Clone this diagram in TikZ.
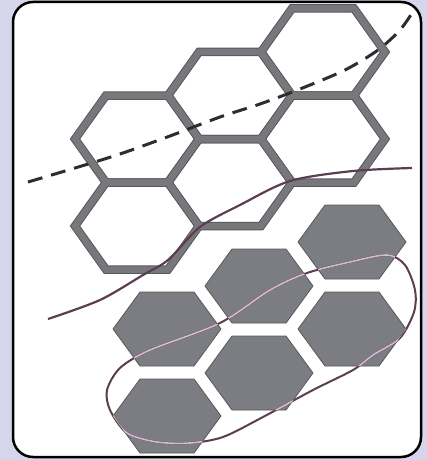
\documentclass[tikz,border=0pt]{standalone}
\definecolor{lavbg}{RGB}{214,214,234}
\definecolor{hexgray}{RGB}{120,120,124}
\definecolor{hexedge}{RGB}{88,88,92}
\definecolor{hexfill}{RGB}{124,125,131}
\definecolor{mauve}{RGB}{92,62,82}
\definecolor{palemauve}{RGB}{214,188,208}
\definecolor{dashgray}{RGB}{45,45,45}
\begin{document}
\begin{tikzpicture}[x=1pt,y=-1pt]
\fill[lavbg] (0,0) rectangle (427,460);
\draw[line width=2.5pt,fill=white,rounded corners=20pt] (13,2) rectangle (421,457);
\foreach \cx/\cy in {137/139,137/226,230/95.5,230/182.5,323/52,323/139}
  \draw[hexedge,line width=8.5pt] (\cx-62,\cy) -- (\cx-31,\cy-43.5) -- (\cx+31,\cy-43.5) -- (\cx+62,\cy) -- (\cx+31,\cy+43.5) -- (\cx-31,\cy+43.5) -- cycle;
\foreach \cx/\cy in {137/139,137/226,230/95.5,230/182.5,323/52,323/139}
  \draw[hexgray,line width=6.5pt] (\cx-62,\cy) -- (\cx-31,\cy-43.5) -- (\cx+31,\cy-43.5) -- (\cx+62,\cy) -- (\cx+31,\cy+43.5) -- (\cx-31,\cy+43.5) -- cycle;
\foreach \cx/\cy in {167/329,167/416,259/286,259/373,352/242,352/329}
  \filldraw[fill=hexfill,draw=black!65,line width=0.8pt] (\cx-54,\cy) -- (\cx-27,\cy-37) -- (\cx+27,\cy-37) -- (\cx+54,\cy) -- (\cx+27,\cy+37) -- (\cx-27,\cy+37) -- cycle;
\draw[dashgray,line width=3pt,dash pattern=on 15pt off 9pt] plot[smooth] coordinates {(28,182) (75,168) (120,154) (170,136) (220,117) (260,104) (300,89) (345,70) (378,50) (400,30) (414,10)};
\path[save path=\bendpath] plot[smooth] coordinates {(48,319) (100,300) (143,275) (168,260) (200,227) (240,205) (290,181) (353,171) (412,168)};
\path[save path=\ringpath] plot[smooth cycle] coordinates {(150,350) (220,323) (270,290) (307,273) (350,262) (387,255) (405,265) (415,290) (414,312) (400,338) (373,355) (353,370) (313,390) (263,417) (223,437) (190,443) (157,442) (127,433) (110,410) (107,390) (120,368)};
\draw[mauve,line width=2.2pt,use path=\bendpath];
\draw[mauve,line width=2pt,use path=\ringpath];
\begin{scope}
\clip \foreach \cx/\cy in {167/329,167/416,259/286,259/373,352/242,352/329} {(\cx-54,\cy) -- (\cx-27,\cy-37) -- (\cx+27,\cy-37) -- (\cx+54,\cy) -- (\cx+27,\cy+37) -- (\cx-27,\cy+37) -- cycle};
\draw[palemauve,line width=1.6pt,use path=\ringpath];
\draw[palemauve,line width=1.6pt,use path=\bendpath];
\end{scope}
\end{tikzpicture}
\end{document}
